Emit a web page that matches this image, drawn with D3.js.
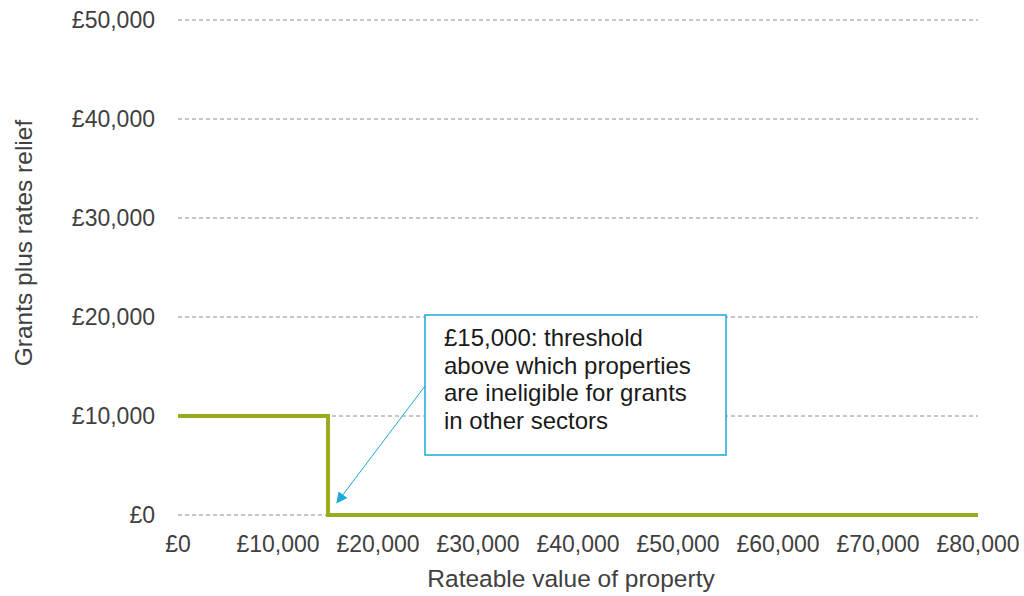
<!DOCTYPE html>
<meta charset="utf-8">
<script src="https://d3js.org/d3.v7.min.js"></script>
<style>
body { margin: 0; background: #fff; }
text { font-family: "Liberation Sans", Arial, sans-serif; }
</style>
<div id="chart"></div>
<script>
// rateable value (x) and grants plus relief (y), step line
var rateableValue = [0, 15000, 15000, 80000];
var grantsRelief = [10000, 10000, 0, 0];
var xTicks = [0, 10000, 20000, 30000, 40000, 50000, 60000, 70000, 80000];
var yTicks = [0, 10000, 20000, 30000, 40000, 50000];
var noteLines = ["£15,000: threshold", "above which properties", "are ineligible for grants", "in other sectors"];
var noteTarget = [15900, 1250];

var W = 1024, H = 596;
var margin = {top: 20, right: 46, bottom: 81, left: 178},
    width = W - margin.left - margin.right,
    height = H - margin.top - margin.bottom;

var svg = d3.select("#chart").append("svg")
    .attr("width", W).attr("height", H);
var g = svg.append("g")
    .attr("transform", "translate(" + margin.left + "," + margin.top + ")");

var x = d3.scaleLinear().domain([0, 80000]).range([0, width]);
var y = d3.scaleLinear().domain([0, 50000]).range([height, 0]);
var fmt = function(d) { return "£" + d3.format(",")(d); };

// gridlines
g.selectAll(".grid").data(yTicks).enter().append("line")
    .attr("x1", 0).attr("x2", width)
    .attr("y1", function(d) { return y(d); })
    .attr("y2", function(d) { return y(d); })
    .attr("stroke", "#8c8c8c").attr("stroke-width", 1)
    .attr("stroke-dasharray", "4,3");

// y tick labels
g.selectAll(".ylab").data(yTicks).enter().append("text")
    .attr("x", -23).attr("y", function(d) { return y(d); })
    .attr("dy", "0.35em").attr("text-anchor", "end")
    .attr("fill", "#404040").style("font-size", "23px")
    .text(fmt);

// x tick labels
g.selectAll(".xlab").data(xTicks).enter().append("text")
    .attr("x", function(d) { return x(d); }).attr("y", 552 - margin.top)
    .attr("text-anchor", "middle")
    .attr("fill", "#404040").style("font-size", "23px")
    .text(fmt);

// axis titles
svg.append("text")
    .attr("x", 571).attr("y", 587)
    .attr("text-anchor", "middle").attr("fill", "#404040")
    .style("font-size", "24.5px").text("Rateable value of property");
svg.append("text")
    .attr("transform", "translate(32,243) rotate(-90)")
    .attr("text-anchor", "middle").attr("fill", "#404040")
    .style("font-size", "24.5px").text("Grants plus rates relief");

// step line
var pts = rateableValue.map(function(v, i) { return [v, grantsRelief[i]]; });
g.append("path").datum(pts)
    .attr("d", d3.line().x(function(d) { return x(d[0]); }).y(function(d) { return y(d[1]); }))
    .attr("fill", "none").attr("stroke", "#9aab22").attr("stroke-width", 4)
    .attr("stroke-linejoin", "miter");

// annotation box
var box = {x: 425, y: 315, w: 301, h: 140};
svg.append("defs").append("marker")
    .attr("id", "arr").attr("viewBox", "0 0 10 10")
    .attr("refX", 9).attr("refY", 5)
    .attr("markerWidth", 15).attr("markerHeight", 11)
    .attr("markerUnits", "userSpaceOnUse").attr("orient", "auto")
  .append("path").attr("d", "M0,0 L10,5 L0,10 z").attr("fill", "#1ba8dc");

svg.append("line")
    .attr("x1", box.x).attr("y1", 386)
    .attr("x2", margin.left + x(noteTarget[0]))
    .attr("y2", margin.top + y(noteTarget[1]))
    .attr("stroke", "#1ba8dc").attr("stroke-width", 1)
    .attr("marker-end", "url(#arr)");

svg.append("rect")
    .attr("x", box.x).attr("y", box.y).attr("width", box.w).attr("height", box.h)
    .attr("fill", "#fff").attr("stroke", "#1ba8dc").attr("stroke-width", 1.5);

svg.append("g").selectAll("text").data(noteLines).enter().append("text")
    .attr("x", box.x + 19).attr("y", function(d, i) { return 346 + i * 27.5; })
    .attr("fill", "#1a1a1a").style("font-size", "24px")
    .text(function(d) { return d; });
</script>
